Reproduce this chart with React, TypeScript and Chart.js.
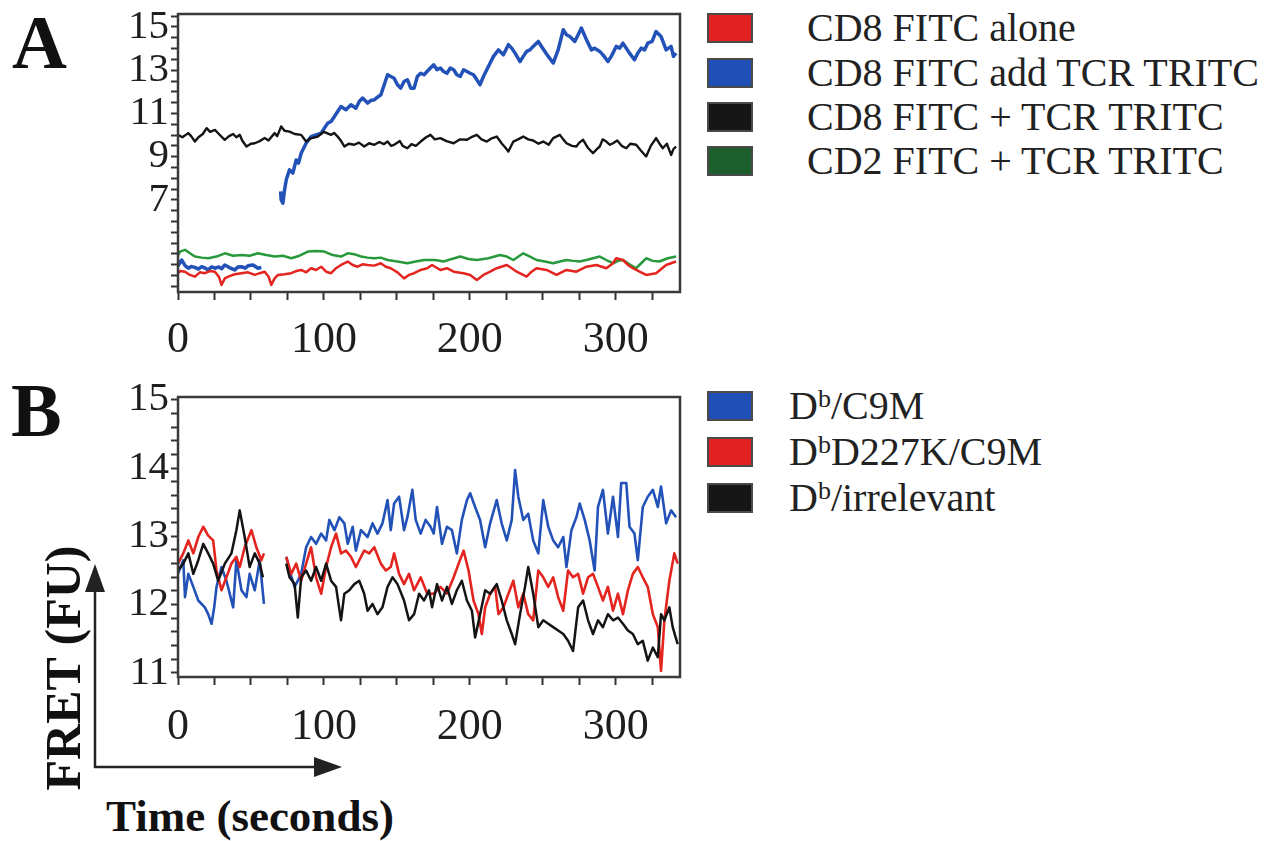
import React, { useEffect, useRef } from 'react';
import { Chart, registerables } from 'chart.js';

Chart.register(...registerables);

type Pt = [number, number | null];

// ---------- Panel A data (time s, FRET FU) ----------
const A_RED: Pt[] = [[0,3.61],[1.4,3.71],[4.8,3.68],[8.2,3.53],[11.6,3.45],[15,3.65],[18.4,3.61],[21.8,3.71],[25.3,3.68],[28,3.45],[29.8,3.07],[32.1,3.37],[34.4,3.45],[38.9,3.56],[43.5,3.61],[48,3.65],[52.6,3.53],[56,3.61],[59.4,3.68],[62.1,3.45],[63.9,3.07],[66.2,3.37],[68.5,3.53],[73,3.56],[77.6,3.61],[81,3.71],[84.4,3.76],[87.8,3.65],[91.2,3.84],[94.6,3.76],[98.1,3.91],[101.5,3.68],[104.9,3.61],[108.3,3.84],[111.7,3.99],[116.3,4.15],[119.7,3.99],[123.1,3.91],[126.5,4.02],[129.9,3.99],[134.5,3.96],[139,4.07],[142.4,3.91],[145.8,3.84],[150.4,3.65],[154.9,3.37],[158.3,3.53],[161.8,3.61],[166.3,3.76],[170.8,3.84],[174.1,3.99],[179.8,3.76],[184.3,3.84],[188.9,3.68],[195.7,3.61],[200.2,3.53],[204.8,3.3],[209.3,3.53],[213.9,3.68],[218.4,3.84],[225.3,3.99],[228.7,3.84],[232.1,3.68],[238.9,3.45],[242.3,3.68],[245.7,3.84],[252.6,3.76],[259.4,3.53],[266.2,3.76],[273,3.68],[279.9,3.91],[286.7,3.99],[293.5,3.84],[298.1,4.07],[300.3,4.3],[304.9,4.22],[308.3,3.99],[311.7,3.84],[316.3,3.68],[320.8,3.53],[327.6,3.61],[334.5,3.99],[341.3,4.15]];

const A_BLUE: Pt[] = [[0,3.95],[2.5,4.22],[5,3.95],[7.1,3.84],[9,3.92],[11.6,3.88],[14,3.8],[16.2,3.91],[18.5,3.85],[20.7,3.76],[23,3.9],[25.3,3.84],[28,3.9],[30,3.82],[32.1,3.99],[35.5,3.86],[38.9,3.76],[41,3.9],[43.5,3.91],[46,3.84],[48,3.95],[51.4,3.99],[54.8,3.84],[57.1,3.87],[64,null],[70.3,7.39],[70.7,7.0],[71.9,6.85],[73,7.46],[74.2,7.93],[76.4,8.39],[78.7,8.24],[81,8.85],[82.6,8.7],[84.4,9.16],[87.8,9.62],[91.2,9.93],[94.6,10.01],[98.1,10.09],[100.3,10.32],[102.6,10.55],[104.9,10.63],[107.2,10.86],[109.4,11.09],[111.7,11.32],[115.1,11.17],[118.5,11.4],[121.9,11.24],[124.2,11.55],[126.5,11.71],[129.9,11.48],[132.2,11.6],[134.5,11.63],[136.7,11.75],[139,11.86],[141.3,12.33],[143.6,12.79],[145.8,12.71],[148.1,12.63],[150.4,12.33],[152.6,12.17],[154.9,12.48],[157.2,12.56],[159.5,12.17],[161.8,12.17],[164,12.71],[166.3,12.86],[168.6,12.79],[170.8,12.95],[175.2,13.25],[177.5,13.02],[179.8,13.1],[182,12.94],[184.3,12.86],[186.6,13.1],[188.9,13.02],[191.1,12.79],[193.4,12.71],[195.7,13.02],[198,12.94],[200.2,12.86],[202.5,12.79],[204.8,12.56],[207,12.33],[209.3,12.71],[211.6,13.02],[213.9,13.33],[216.2,13.64],[219.6,13.94],[223,13.71],[226.4,14.18],[228.7,14.02],[231,13.79],[234.4,13.4],[236.6,13.64],[238.9,13.87],[241.2,13.94],[243.4,14.1],[246.9,14.33],[249.1,14.1],[251.4,13.87],[253.7,13.64],[257.1,13.33],[260.5,13.94],[264,14.87],[266.2,14.64],[268.5,14.56],[271.9,14.33],[274.2,14.64],[276.4,14.95],[279.9,14.41],[283.3,13.94],[285.5,14.02],[289,13.87],[291.2,13.71],[294.6,13.4],[296.9,13.64],[300.3,14.1],[302.6,14.02],[304.9,14.25],[309.4,13.79],[312.8,13.48],[315.1,13.79],[317.4,14.02],[319.7,13.94],[321.9,14.25],[324.9,14.33],[327.6,14.79],[331,14.56],[334.5,13.94],[337.9,14.1],[339.5,13.64],[341.3,13.79]];

const A_BLACK: Pt[] = [[0,10.01],[3,9.9],[7,10.09],[9,9.95],[11.6,9.7],[14,9.9],[17,10.05],[19.6,10.32],[22,10.15],[25.3,10.24],[28,10.05],[32,9.78],[35,9.95],[37.8,10.05],[40,9.9],[42.3,10.01],[44,9.75],[46.9,9.47],[50,9.6],[52.6,9.62],[56,9.72],[59.4,9.86],[62,9.75],[66.2,10.09],[68,9.95],[70.7,10.4],[73,10.2],[76.4,10.16],[80,10.05],[84.4,10.01],[87.8,9.7],[91,9.85],[95.8,9.93],[100,10.15],[104.9,10.01],[107,10.1],[109.4,9.93],[112,9.7],[114,9.47],[117,9.6],[120.8,9.55],[124,9.65],[127.6,9.47],[131,9.62],[134.5,9.55],[138,9.68],[141,9.58],[143.6,9.7],[146,9.5],[148.1,9.55],[152,9.72],[154,9.5],[157.2,9.39],[160,9.58],[163,9.5],[166.3,9.7],[170,9.9],[173,10.01],[176,9.8],[179.8,9.86],[184,9.72],[188.9,9.62],[193,9.8],[198,9.78],[201,9.9],[204.8,10.01],[208,9.8],[211.6,9.7],[215,9.85],[218.4,9.93],[222,9.6],[224,9.45],[226.4,9.24],[229.8,9.7],[233,9.8],[236.6,9.93],[240,9.8],[243.4,9.75],[247,9.6],[250.3,9.7],[254,9.55],[257.1,9.86],[261.7,10.01],[264,9.8],[266.2,9.62],[270,9.5],[273,9.47],[275,9.65],[277.6,9.78],[281,9.4],[284.4,9.16],[287,9.35],[289,9.47],[291,9.8],[293.5,9.7],[296,9.55],[298.1,9.62],[301,9.75],[304,9.5],[307.2,9.39],[310,9.6],[314,9.55],[317,9.3],[320.8,9.01],[324,9.5],[327.6,9.86],[330,9.6],[332.2,9.39],[335,9.6],[337.9,9.08],[339.5,9.35],[341.3,9.47]];

const A_GREEN: Pt[] = [[0,4.45],[1.4,4.61],[4.8,4.69],[8.2,4.53],[11.6,4.38],[16.2,4.33],[20.7,4.3],[26.4,4.38],[32.1,4.53],[37.8,4.42],[43.5,4.45],[49.1,4.42],[54.8,4.53],[60.5,4.45],[66.2,4.38],[71.9,4.42],[77.6,4.3],[83.3,4.42],[89,4.61],[94.6,4.64],[100.3,4.61],[106,4.45],[111.7,4.38],[116.3,4.53],[120.8,4.49],[125.4,4.38],[129.9,4.33],[134.5,4.3],[139,4.33],[143.6,4.22],[150.4,4.15],[157.2,4.07],[162.9,4.15],[168.6,4.22],[176.3,4.22],[182,4.15],[187.7,4.27],[193.4,4.38],[199.1,4.27],[204.8,4.22],[212.7,4.3],[220.7,4.45],[225.3,4.38],[229.8,4.22],[236.6,4.53],[241.2,4.38],[245.7,4.22],[251.4,4.15],[257.1,4.07],[261.7,4.15],[266.2,4.22],[270.7,4.18],[275.3,4.15],[279.9,4.22],[284.4,4.3],[289,4.38],[293.5,4.22],[298.1,4.07],[301.5,4.18],[304.9,4.22],[309.4,4.02],[314,3.84],[317.4,4.07],[320.8,4.3],[325.4,4.18],[329.9,4.15],[335.6,4.3],[341.3,4.38]];

// ---------- Panel B data ----------
const B_BLUE: Pt[] = [[0,12.45],[3.6,12.65],[4.8,12.11],[7.1,12.45],[10.5,12.26],[13.9,12.06],[18.4,11.96],[20.7,11.86],[23,11.72],[24.8,11.96],[26.4,12.26],[29.8,12.55],[33.2,12.35],[37.8,11.96],[40,12.65],[43.5,12.21],[46.9,12.11],[49.1,12.45],[52.6,12.21],[56,12.65],[58.9,12.01],[66,null],[74.2,12.7],[76.4,12.5],[79.9,12.26],[82.1,12.35],[84.4,12.45],[87.8,12.84],[91.2,12.99],[94.6,12.89],[98.1,13.04],[101.5,12.94],[103.7,13.24],[107.2,13.09],[110.6,13.28],[114,13.19],[116.3,12.89],[119.7,13.14],[121.9,12.79],[125.4,13.09],[129.9,12.99],[133.3,13.19],[136.7,13.04],[140.1,13.19],[143.6,13.53],[145.8,13.09],[148.1,13.48],[151.5,13.58],[154.9,13.09],[157.2,13.28],[160.6,13.68],[162.9,13.24],[166.3,13.04],[169.7,13.24],[173.1,13.14],[175.2,13.04],[177.5,13.43],[180.9,12.89],[184.3,13.14],[187.7,13.09],[191.1,12.75],[194.5,13.24],[198,13.53],[200.2,13.63],[203.6,13.43],[207,13.24],[210.5,12.84],[213.9,13.19],[218.4,13.53],[221.8,13.19],[225.3,12.94],[228.7,13.24],[231,13.97],[233.2,13.58],[236.6,13.24],[240,13.33],[243.4,12.94],[246.9,12.75],[250.3,13.53],[253.7,13.14],[257.1,12.94],[260.5,12.84],[264,12.99],[266.2,12.55],[269.6,13.09],[273,13.28],[275.3,13.48],[278.7,13.24],[282.1,12.94],[285.5,12.5],[287.8,13.43],[291.2,13.68],[294.6,13.04],[298.1,13.58],[301.5,12.99],[303.7,13.78],[307.2,13.78],[309.4,13.14],[312.8,13.04],[315.1,12.65],[318.5,13.43],[321.9,13.58],[325.4,13.68],[328.8,13.43],[331,13.73],[334.5,13.19],[337.9,13.38],[341.3,13.28]];

const B_RED: Pt[] = [[0,12.6],[3.6,12.75],[7.1,12.94],[10.5,12.75],[13.9,12.99],[17.3,13.14],[20.7,13.01],[24.1,12.94],[26.4,12.5],[29.8,12.21],[33.2,12.4],[36.6,12.6],[40,12.7],[42.3,12.55],[45.7,12.84],[50.3,13.09],[53.7,12.84],[57.1,12.65],[58.9,12.75],[66,null],[74.2,12.7],[77.6,12.45],[81,12.6],[84.4,12.35],[87.8,12.6],[91.2,12.84],[94.6,12.4],[98.1,12.16],[101.5,12.55],[104.9,12.84],[108.3,13.04],[111.7,12.75],[115.1,12.79],[118.5,12.7],[121.9,12.55],[124.2,12.65],[127.6,12.79],[131,12.75],[134.5,12.84],[139,12.6],[142.4,12.5],[145.8,12.55],[148.1,12.75],[151.5,12.45],[154.9,12.3],[158.3,12.45],[161.8,12.21],[166.3,12.4],[170.8,12.16],[175.2,12.16],[179.8,12.26],[184.3,12.16],[188.9,12.4],[192.3,12.6],[195.7,12.79],[199.1,12.5],[202.5,12.06],[205.9,11.86],[208.2,11.57],[210.5,11.96],[213.9,12.16],[217.3,12.26],[219.6,11.86],[223,11.96],[226.4,12.16],[229.8,12.35],[233.2,11.96],[236.6,12.16],[240,11.86],[243.4,11.77],[246.9,12.5],[250.3,12.4],[253.7,12.26],[257.1,12.4],[260.5,12.11],[264,11.91],[267.3,12.5],[270.7,12.4],[274.2,12.45],[277.6,12.16],[281,12.4],[284.4,12.45],[287.8,12.26],[291.2,12.06],[294.6,12.26],[298.1,11.91],[301.5,12.16],[304.9,11.86],[308.3,12.21],[311.7,12.45],[315.1,12.55],[318.5,12.4],[321.9,12.26],[325.4,11.86],[328.8,11.67],[331,11.03],[333.3,11.77],[336.7,12.35],[340.1,12.75],[342.4,12.6]];

const B_BLACK: Pt[] = [[0,12.5],[3.6,12.6],[7.1,12.75],[10.5,12.45],[13.9,12.65],[17.3,12.89],[20.7,12.75],[24.1,12.6],[27.5,12.35],[32.1,12.6],[36.6,12.75],[40,13.09],[42.3,13.38],[45.7,12.99],[49.1,12.55],[52.6,12.75],[56,12.6],[58.2,12.4],[66,null],[74.2,12.6],[76.4,12.4],[79.9,12.3],[82.1,11.81],[84.4,12.4],[87.8,12.5],[91.2,12.35],[94.6,12.55],[98.1,12.35],[101.5,12.6],[104.9,12.35],[108.3,12.26],[111.7,11.77],[114,12.16],[117.4,12.21],[120.8,12.3],[124.2,12.35],[127.6,12.16],[129.9,11.91],[133.3,12.01],[136.7,11.86],[140.1,11.96],[143.6,12.26],[147,12.4],[150.4,12.3],[154.9,12.06],[158.3,11.77],[161.8,11.86],[165.2,12.16],[168.6,12.06],[172,12.21],[174.1,11.96],[177.5,12.3],[180.9,12.06],[184.3,12.26],[187.7,12.01],[191.1,12.21],[194.5,12.35],[198,12.06],[201.4,11.91],[203.6,11.52],[207,11.86],[210.5,12.21],[213.9,12.16],[218.4,12.3],[221.8,12.06],[225.3,11.77],[228.7,11.57],[231,11.42],[234.4,11.86],[237.8,12.26],[240,12.55],[243.4,12.16],[246.9,11.67],[250.3,11.77],[253.7,11.72],[257.1,11.67],[260.5,11.62],[264,11.57],[267.3,11.47],[270.7,11.32],[274.2,11.96],[277.6,12.06],[281,11.77],[284.4,11.57],[287.8,11.77],[291.2,11.67],[294.6,11.86],[298.1,11.77],[301.5,11.81],[304.9,11.72],[308.3,11.62],[311.7,11.57],[315.1,11.42],[318.5,11.47],[321.9,11.18],[325.4,11.37],[328.8,11.23],[331,11.86],[333.3,11.77],[336.7,11.96],[339,11.67],[342.4,11.42]];

// ---------- labels / ticks ----------
const A_LEGEND = ['CD8 FITC alone', 'CD8 FITC add TCR TRITC', 'CD8 FITC + TCR TRITC', 'CD2 FITC + TCR TRITC'];
const A_Y_LABELS = [7, 9, 11, 13, 15];
const B_Y_LABELS = [11, 12, 13, 14, 15];
const X_LABELS = [0, 100, 200, 300];

const RED = '#e3241f';
const BLUE = '#2252b8';
const BLACK = '#141414';
const GREEN = '#27993b';

const SERIF = '"Liberation Serif", "Times New Roman", serif';

const framePlugin = {
  id: 'frame',
  afterDatasetsDraw(chart: any) {
    const { ctx, chartArea: a } = chart;
    ctx.save();
    ctx.strokeStyle = '#3a3a3a';
    ctx.lineWidth = 2.5;
    ctx.strokeRect(a.left, a.top, a.right - a.left, a.bottom - a.top);
    ctx.restore();
  },
};

interface Series { label: string; color: string; width: number; data: Pt[] }
interface PanelSpec {
  series: Series[];
  yMin: number; yMax: number; yStep: number; yLabels: number[];
  padTop: number; areaBottom: number; height: number; xPad: number;
}

function Panel({ spec, top }: { spec: PanelSpec; top: number }) {
  const ref = useRef<HTMLCanvasElement>(null);
  useEffect(() => {
    const chart = new Chart(ref.current as HTMLCanvasElement, {
      type: 'line',
      data: {
        datasets: spec.series.map((s) => ({
          label: s.label,
          data: s.data.map(([x, y]) => ({ x, y })),
          borderColor: s.color,
          backgroundColor: s.color,
          borderWidth: s.width,
          pointRadius: 0,
          tension: 0,
          spanGaps: false,
          fill: false,
          borderJoinStyle: 'round',
        })),
      },
      options: {
        animation: false,
        responsive: false,
        maintainAspectRatio: false,
        events: [],
        layout: { padding: { top: spec.padTop, right: 20, left: 0, bottom: 0 } },
        plugins: { legend: { display: false }, tooltip: { enabled: false } },
        scales: {
          x: {
            type: 'linear',
            min: 0,
            max: 344,
            border: { display: false },
            grid: { display: true, drawOnChartArea: false, drawTicks: true, tickLength: 8, tickWidth: 2, tickColor: '#333' },
            ticks: {
              stepSize: 25,
              autoSkip: false,
              maxRotation: 0,
              includeBounds: false,
              padding: spec.xPad,
              color: '#1e1e1e',
              font: { family: SERIF, size: 44 },
              callback: (v: any) => (X_LABELS.includes(Number(v)) ? String(v) : ''),
            },
            afterFit: (s: any) => {
              s.height = spec.height - spec.areaBottom;
              s.paddingLeft = 0; s.paddingRight = 0;
            },
          },
          y: {
            type: 'linear',
            min: spec.yMin,
            max: spec.yMax,
            border: { display: false },
            grid: { display: true, drawOnChartArea: false, drawTicks: true, tickLength: 7, tickWidth: 2, tickColor: '#333' },
            ticks: {
              stepSize: spec.yStep,
              autoSkip: false,
              includeBounds: false,
              padding: 2,
              color: '#1e1e1e',
              font: { family: SERIF, size: 41 },
              callback: (v: any) => {
                const n = Number(v);
                const r = Math.round(n);
                return Math.abs(n - r) < 1e-6 && spec.yLabels.includes(r) ? String(r) : '';
              },
            },
            afterFit: (s: any) => {
              s.width = 178;
              s.paddingTop = 0; s.paddingBottom = 0;
            },
          },
        },
      } as any,
      plugins: [framePlugin],
    });
    return () => chart.destroy();
  }, []);
  return (
    <canvas
      ref={ref}
      width={700}
      height={spec.height}
      style={{ position: 'absolute', left: 0, top, width: 700, height: spec.height }}
    />
  );
}

const PANEL_A: PanelSpec = {
  series: [
    { label: A_LEGEND[0], color: RED, width: 2.5, data: A_RED },
    { label: A_LEGEND[3], color: GREEN, width: 2.5, data: A_GREEN },
    { label: A_LEGEND[2], color: BLACK, width: 2.4, data: A_BLACK },
    { label: A_LEGEND[1], color: BLUE, width: 3.5, data: A_BLUE },
  ],
  yMin: 2.74, yMax: 15.6, yStep: 0.5, yLabels: A_Y_LABELS,
  padTop: 14, areaBottom: 292, height: 380, xPad: 14,
};

const PANEL_B: PanelSpec = {
  series: [
    { label: 'Db/irrelevant', color: BLACK, width: 2.5, data: B_BLACK },
    { label: 'DbD227K/C9M', color: RED, width: 2.6, data: B_RED },
    { label: 'Db/C9M', color: BLUE, width: 2.6, data: B_BLUE },
  ],
  yMin: 10.94, yMax: 15.04, yStep: 0.2, yLabels: B_Y_LABELS,
  padTop: 17, areaBottom: 297, height: 380, xPad: 16,
};

const textBase: React.CSSProperties = {
  position: 'absolute',
  fontFamily: SERIF,
  color: '#222',
  lineHeight: 1,
  whiteSpace: 'nowrap',
};

function Swatch({ left, top, color }: { left: number; top: number; color: string }) {
  return (
    <div
      style={{
        position: 'absolute', left, top, width: 46, height: 30,
        background: color, border: '2px solid #4a4a4a', boxSizing: 'border-box',
      }}
    />
  );
}

export default function App() {
  const legendA = [
    { c: '#e02222', t: A_LEGEND[0] },
    { c: '#2050b5', t: A_LEGEND[1] },
    { c: '#161616', t: A_LEGEND[2] },
    { c: '#1c5e2c', t: A_LEGEND[3] },
  ];
  const rowA = [13, 58, 102, 146];
  const legendB = [
    { c: '#2050b5', main: '/C9M' },
    { c: '#e02222', main: 'D227K/C9M' },
    { c: '#161616', main: '/irrelevant' },
  ];
  const rowB = [391, 437, 483];
  return (
    <div style={{ position: 'absolute', left: 0, top: 0, width: 1285, height: 841, background: '#fff', overflow: 'hidden' }}>
      <Panel spec={PANEL_A} top={0} />
      <Panel spec={PANEL_B} top={380} />

      <div style={{ ...textBase, left: 12, top: 4, fontSize: 76, fontWeight: 700, color: '#111' }}>A</div>
      <div style={{ ...textBase, left: 11, top: 372, fontSize: 76, fontWeight: 700, color: '#111' }}>B</div>

      {legendA.map((r, i) => (
        <React.Fragment key={i}>
          <Swatch left={707} top={rowA[i]} color={r.c} />
          <div style={{ ...textBase, left: 807, top: rowA[i] + 15 - 20, height: 40, fontSize: 40, display: 'flex', alignItems: 'center' }}>{r.t}</div>
        </React.Fragment>
      ))}

      {legendB.map((r, i) => (
        <React.Fragment key={i}>
          <Swatch left={707} top={rowB[i]} color={r.c} />
          <div style={{ ...textBase, left: 789, top: rowB[i] + 15 - 20, height: 40, fontSize: 40, display: 'flex', alignItems: 'center' }}>
            <span>D<span style={{ fontSize: 26, position: 'relative', top: -12 }}>b</span>{r.main}</span>
          </div>
        </React.Fragment>
      ))}

      <div
        style={{
          ...textBase, left: 63, top: 668, fontSize: 50, fontWeight: 700, color: '#111',
          transform: 'translate(-50%, -50%) rotate(-90deg)',
        }}
      >
        FRET (FU)
      </div>
      <div style={{ ...textBase, left: 106, top: 794, fontSize: 45, fontWeight: 700, color: '#111' }}>Time (seconds)</div>

      <svg width={1285} height={841} style={{ position: 'absolute', left: 0, top: 0, pointerEvents: 'none' }}>
        <line x1={95} y1={768} x2={95} y2={588} stroke="#222" strokeWidth={2.5} />
        <polygon points="95,564 85,592 105,592" fill="#222" />
        <line x1={94} y1={767} x2={318} y2={767} stroke="#222" strokeWidth={2.5} />
        <polygon points="342,767 314,757 314,777" fill="#222" />
      </svg>
    </div>
  );
}
